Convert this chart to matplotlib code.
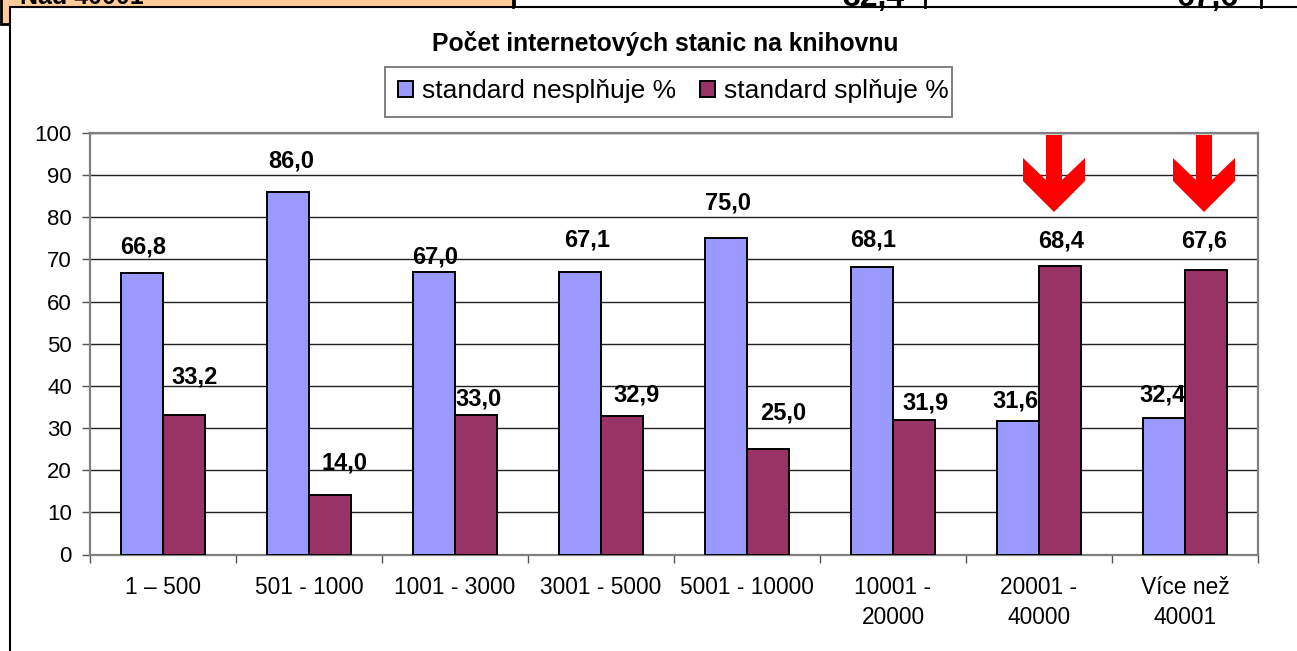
import matplotlib
matplotlib.use("Agg")
import matplotlib.pyplot as plt
from matplotlib.patches import Rectangle, Polygon

categories = ["1 – 500", "501 - 1000", "1001 - 3000", "3001 - 5000", "5001 - 10000",
              "10001 -\n20000", "20001 -\n40000", "Více než\n40001"]
nesplnuje = [66.8, 86.0, 67.0, 67.1, 75.0, 68.1, 31.6, 32.4]
splnuje = [33.2, 14.0, 33.0, 32.9, 25.0, 31.9, 68.4, 67.6]
series_names = ["standard nesplňuje %", "standard splňuje %"]
y_ticks = list(range(0, 101, 10))
title = "Počet internetových stanic na knihovnu"

# hand placed label offsets in pixels from the top of each bar
offsets_1 = [(1, 26), (3, 31), (1, 15), (7, 32), (2, 35), (1, 27), (-2, 20), (-1, 23)]
offsets_2 = [(11, 38), (14, 32), (3, 16), (15, 21), (15, 36), (11, 17), (1, 25), (-2, 29)]

W, H = 1297, 651
plt.rcParams['font.family'] = ['Liberation Sans', 'DejaVu Sans']
fig = plt.figure(figsize=(W / 100, H / 100), dpi=100)

# pixel overlay for the frame, the cropped table row and the arrows
bg = fig.add_axes([0, 0, 1, 1], zorder=0)
bg.set_xlim(0, W)
bg.set_ylim(H, 0)
bg.axis("off")
bg.add_patch(Rectangle((0.5, -5), 513, 29, fc="#FFCC99", ec="black", lw=2))
bg.plot([513, 513], [0, 7], color="black", lw=2)
bg.plot([925, 925], [0, 7], color="black", lw=2)
bg.plot([1261, 1261], [0, 7], color="black", lw=2)
for x, y, s, al, size in [(20, 3.5, "Nad 40001", "left", 18), (904, 6, "32,4", "right", 23),
                          (1239, 6, "67,6", "right", 23)]:
    bg.text(x, y, s, fontsize=size, fontweight="bold", ha=al, va="baseline")
bg.add_patch(Rectangle((10, 7), W + 10, H + 10, fc="white", ec="black", lw=1.5))
bg.text(665, 43, title, fontsize=17.8, fontweight="bold", ha="center", va="center")
bg.add_patch(Rectangle((385, 67), 567, 50, fc="white", ec="#808080", lw=1.4))

ax = fig.add_axes([90 / W, 1 - 554.5 / H, 1168 / W, 421.5 / H], zorder=1)
ax.patch.set_alpha(0)
xs = list(range(len(categories)))
bar_w = 0.288
b1 = ax.bar([x - bar_w / 2 for x in xs], nesplnuje, bar_w, color="#9999FF", edgecolor="black", lw=1.4,
            label=series_names[0], zorder=3)
b2 = ax.bar([x + bar_w / 2 for x in xs], splnuje, bar_w, color="#993366", edgecolor="black", lw=1.4,
            label=series_names[1], zorder=3)

ax.set_xlim(-0.5, len(categories) - 0.5)
ax.set_ylim(0, 100)
ax.set_yticks(y_ticks)
ax.set_xticks(xs)
ax.set_xticklabels(categories, fontsize=16.4, linespacing=1.37)
ax.set_xticks([x - 0.5 for x in range(len(categories) + 1)], minor=True)
ax.tick_params(axis="x", which="major", length=0, pad=15.5)
ax.tick_params(axis="x", which="minor", length=6, color="#555555", width=1)
ax.tick_params(axis="y", length=6, color="#555555", width=1, labelsize=16, pad=7)
ax.grid(axis="y", color="#222222", lw=1, zorder=1)
for s in ax.spines.values():
    s.set_color("#808080")
    s.set_linewidth(1.6)
    s.set_zorder(2)

for bars, vals, offs in [(b1, nesplnuje, offsets_1), (b2, splnuje, offsets_2)]:
    for bar, v, off in zip(bars, vals, offs):
        ax.annotate(f"{v:.1f}".replace(".", ","), (bar.get_x() + bar.get_width() / 2, v),
                    xytext=off, textcoords="offset pixels", ha="center", va="center",
                    fontsize=17, fontweight="bold", zorder=5)

# red arrows over the two last groups
for cx in [1054, 1204]:
    arrow = [(cx - 8, 135), (cx + 8, 135), (cx + 8, 180), (cx + 31, 158), (cx + 31, 181), (cx, 212),
             (cx - 31, 181), (cx - 31, 158), (cx - 8, 180)]
    fig.add_artist(Polygon([(x / W, 1 - y / H) for x, y in arrow], closed=True, fc="#FF0000", ec="none",
                           transform=fig.transFigure, zorder=6))

# box is drawn on bg, it is not centred around the entries
fig.legend(handles=[b1, b2], loc="center", bbox_to_anchor=(673 / W, 1 - 91 / H), ncol=2,
           fontsize=19, frameon=False, handlelength=0.57, handleheight=0.57, handletextpad=0.34,
           columnspacing=0.9, borderpad=0.45, borderaxespad=0)

fig.savefig("out.png", dpi=100)
